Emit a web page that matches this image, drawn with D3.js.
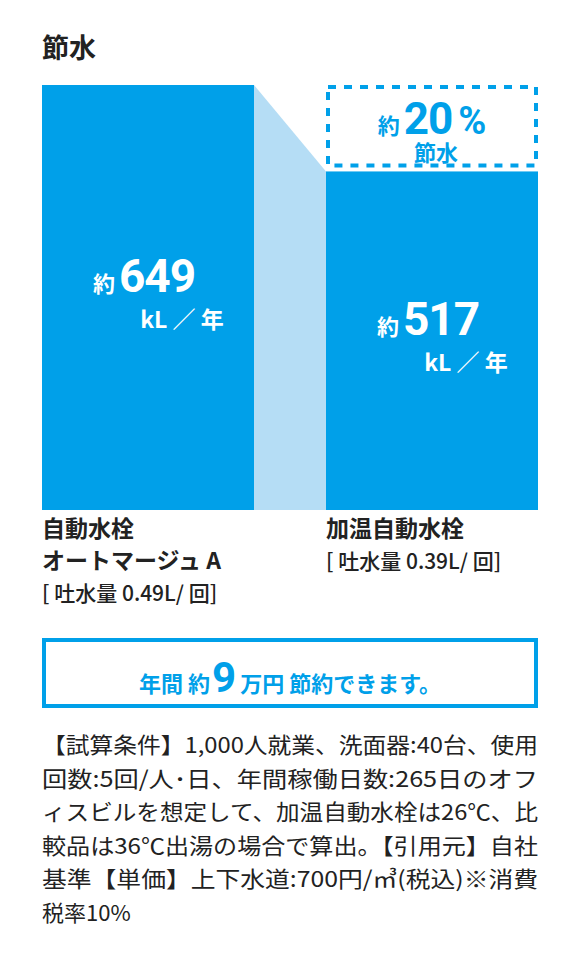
<!DOCTYPE html><html><head><meta charset="utf-8">
<script src="https://cdn.jsdelivr.net/npm/d3@7"></script>
<style>body{margin:0;background:#fff}svg{display:block}text{font-family:"Noto Sans CJK JP","Noto Sans",sans-serif}</style></head><body>
<script>
const categories=["自動水栓オートマージュ A","加温自動水栓"];
const values=[649,517];
const units="kL ／ 年";
const saving="20";
const catLines=[["自動水栓","オートマージュ A","[ 吐水量 0.49L/ 回]"],["加温自動水栓","[ 吐水量 0.39L/ 回]"]];
const noteLines=["【試算条件】1,000人就業、洗面器:40台、使用","回数:5回/人･日、年間稼働日数:265日のオフ","ィスビルを想定して、加温自動水栓は26℃、比","較品は36℃出湯の場合で算出。【引用元】自社","基準【単価】上下水道:700円/㎥(税込)※消費","税率10%"];
const blue="#00a0e9",light="#b5ddf5";
const W=581,H=971;
const svg=d3.select("body").append("svg").attr("width",W).attr("height",H);
svg.append("text").attr("x",42).attr("y",58).attr("font-size",27).attr("font-weight",700).attr("fill","#222").text("節水");
const x=d3.scaleBand().domain(categories).range([42,538]).paddingInner(72/284).paddingOuter(0);
const y=d3.scaleLinear().domain([0,649]).range([510,85]);
const bw=x.bandwidth();
const x0=x(categories[0])+bw,x1=x(categories[1]);
svg.append("path").attr("fill",light).attr("d",`M${x0},${y(values[0])}L${x1},${y(values[1])}L${x1},${y(0)}L${x0},${y(0)}Z`);
svg.selectAll("rect.bar").data(values).join("rect").attr("x",(d,i)=>x(categories[i])).attr("y",d=>y(d)).attr("width",bw).attr("height",d=>y(0)-y(d)).attr("fill",blue);
svg.append("rect").attr("x",x1+2).attr("y",y(values[0])+2).attr("width",bw-4).attr("height",y(values[1])-y(values[0])-8).attr("fill","none").attr("stroke",blue).attr("stroke-width",4).attr("stroke-dasharray","8,8");
const cx1=x1+bw/2;
const t=svg.append("text").attr("x",cx1).attr("y",134).attr("text-anchor","middle").attr("fill",blue).attr("font-weight",700);
t.append("tspan").attr("font-size",22).text("約");
t.append("tspan").attr("font-size",44).attr("font-family","Roboto").attr("dx",4).attr("letter-spacing",-1).text(saving);
t.append("tspan").attr("font-size",38).attr("font-family","Roboto").attr("dx",6).text("%");
svg.append("text").attr("x",cx1+4).attr("y",161).attr("text-anchor","middle").attr("fill",blue).attr("font-weight",700).attr("font-size",22).text("節水");
values.forEach((v,i)=>{
  const cx=x(categories[i])+bw/2, cy=(y(v)+y(0))/2;
  const tt=svg.append("text").attr("x",cx-4).attr("y",cy-6).attr("text-anchor","middle").attr("fill","#fff").attr("font-weight",700);
  tt.append("tspan").attr("font-size",22).text("約");
  tt.append("tspan").attr("font-size",46).attr("font-family","Roboto").attr("dx",4).attr("letter-spacing",-1).text(v);
  svg.append("text").attr("x",cx+34).attr("y",cy+30).attr("text-anchor","middle").attr("fill","#fff").attr("font-weight",700).attr("font-size",23).text(units);
});
catLines.forEach((ls,i)=>{
  const bx=x(categories[i]);
  ls.forEach((l,j)=>{
    const bracket=l.startsWith("[");
    svg.append("text").attr("x",bx).attr("y",537+j*32).attr("font-size",bracket?21:23).attr("font-weight",bracket?500:700).attr("fill","#222").text(l);
  });
});
svg.append("rect").attr("x",44).attr("y",640).attr("width",492).attr("height",66).attr("fill","none").attr("stroke",blue).attr("stroke-width",4);
const s=svg.append("text").attr("x",290).attr("y",692).attr("text-anchor","middle").attr("fill",blue).attr("font-weight",700);
s.append("tspan").attr("font-size",22).text("年間 約");
s.append("tspan").attr("font-size",42).attr("font-family","Roboto").attr("dx",2).text("9");
s.append("tspan").attr("font-size",22).attr("dx",4).text("万円 節約できます。");
noteLines.forEach((l,i)=>svg.append("text").attr("x",42).attr("y",753+i*33.5).attr("font-size",22).attr("fill","#222").attr("textLength",i<5?496:null).attr("lengthAdjust","spacingAndGlyphs").text(l));
</script></body></html>
